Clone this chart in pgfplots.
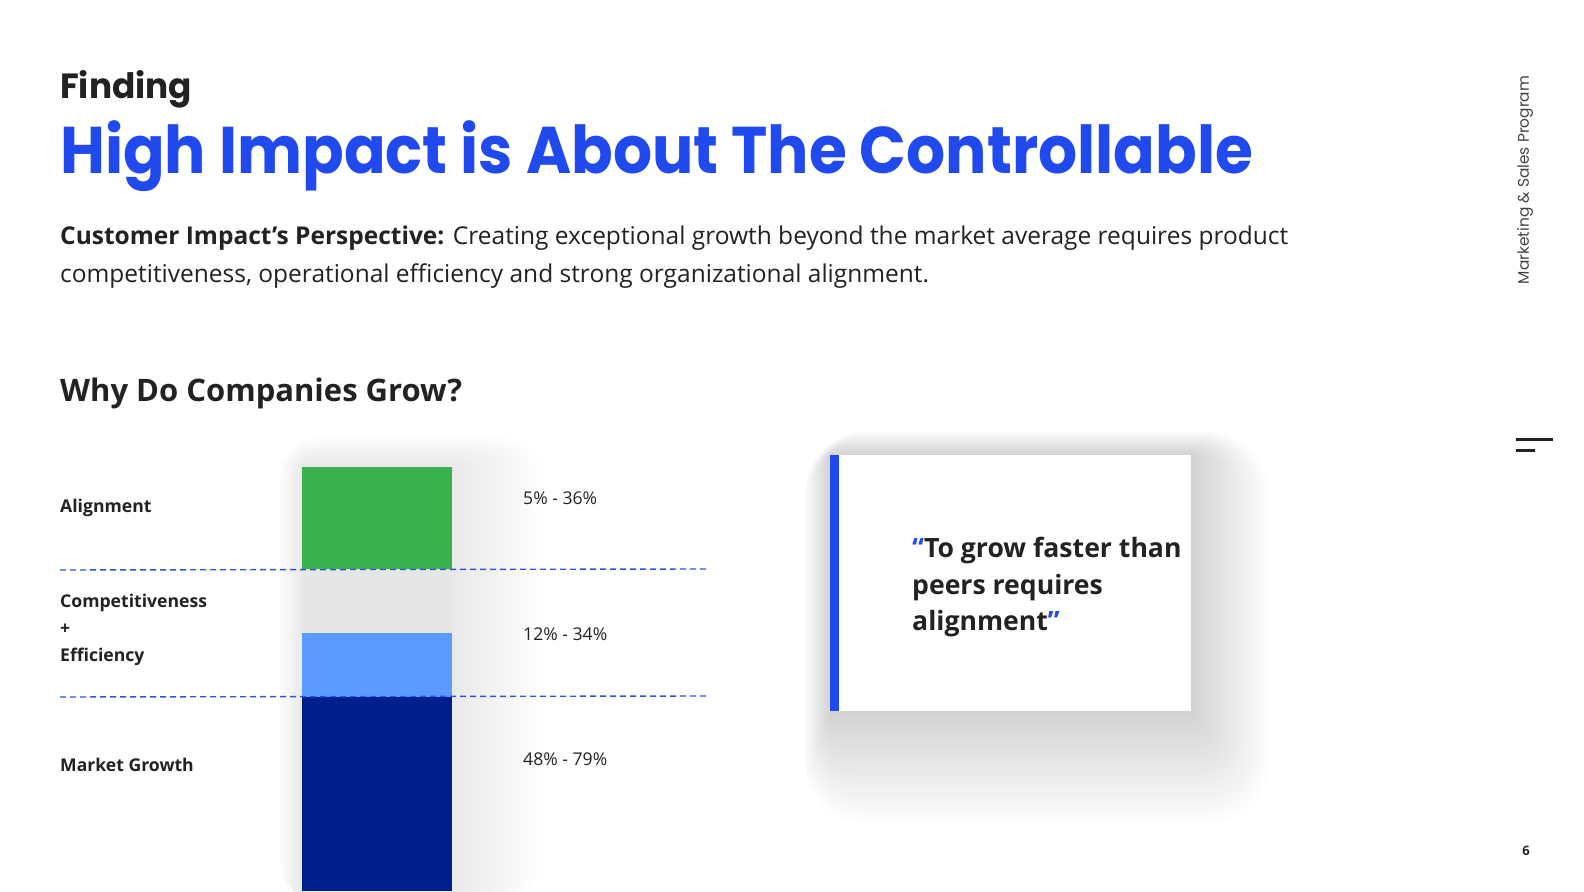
\documentclass[border=0pt]{standalone}
\usepackage{pgfplots}
\pgfplotsset{compat=1.18}
\usepackage{fontspec}
\setmainfont{Open Sans}
\newfontfamily\pop{Poppins}
\definecolor{txt}{HTML}{222222}
\definecolor{ttl}{HTML}{2049EE}
\definecolor{cgreen}{HTML}{3BB14E}
\definecolor{clblue}{HTML}{5B9BFF}
\definecolor{cnavy}{HTML}{001E8C}
\definecolor{cgray}{HTML}{E6E6E6}
\definecolor{cdash}{HTML}{2F55D4}
\newcommand{\fs}[1]{\fontsize{#1}{#1}\selectfont}
\begin{document}
\begin{tikzpicture}[x=1pt,y=1pt]
\useasboundingbox (0,0) rectangle (1584,891);
\fill[white] (0,0) rectangle (1584,891);
% soft shadow around bar
\foreach \k in {1,...,22} {
  \fill[black, opacity=0.005, rounded corners=2*\k] ({302-1.1*\k},-10) rectangle ({452+4.2*\k},{424+1.4*\k});
}
% shadow around quote box
\foreach \k in {1,...,22} {
  \fill[black, opacity=0.006, rounded corners=3*\k] ({830-1.2*\k},{180-5.2*\k}) rectangle ({1191+3.6*\k},{436+1.1*\k});
}
\begin{axis}[
  at={(0,0)}, anchor=origin,
  scale only axis, width=1584pt, height=891pt,
  xmin=0, xmax=1584, ymin=0, ymax=891,
  hide axis, clip=true,
  ybar stacked, bar width=150,
]
\addplot[fill=cnavy, draw=none] coordinates {(377,194)};
\addplot[fill=clblue, draw=none] coordinates {(377,64)};
\addplot[fill=cgray, draw=none] coordinates {(377,64)};
\addplot[fill=cgreen, draw=none] coordinates {(377,102)};
\end{axis}
\draw[cdash, line width=1.4pt, dash pattern=on 6pt off 4pt] (60,321) -- (710,322);
\draw[cdash, line width=1.4pt, dash pattern=on 6pt off 4pt] (60,194) -- (710,195);
% quote box
\fill[white] (839,180) rectangle (1191,436);
\fill[ttl] (830,180) rectangle (839,436);
% texts
\node[anchor=base west, inner sep=0, text=txt, xscale=0.98] at (60,792) {\pop\bfseries\fs{35}Finding};
\node[anchor=base west, inner sep=0, text=ttl, xscale=0.93] at (60,717) {\pop\bfseries\fs{66}High Impact is About The Controllable};
\node[anchor=base west, inner sep=0, text=txt] at (60,646) {\fs{24.5}\textbf{Customer Impact’s Perspective:} Creating exceptional growth beyond the market average requires product};
\node[anchor=base west, inner sep=0, text=txt] at (60,608) {\fs{24.5}competitiveness, operational efficiency and strong organizational alignment.};
\node[anchor=base west, inner sep=0, text=txt] at (60,489) {\bfseries\fs{31}Why Do Companies Grow?};
\node[anchor=base west, inner sep=0, text=txt] at (60,378) {\bfseries\fs{17.6}Alignment};
\node[anchor=base west, inner sep=0, text=txt] at (60,283) {\bfseries\fs{17.6}Competitiveness};
\node[anchor=base west, inner sep=0, text=txt] at (60,256) {\bfseries\fs{17.6}+};
\node[anchor=base west, inner sep=0, text=txt] at (60,229) {\bfseries\fs{17.6}Efficiency};
\node[anchor=base west, inner sep=0, text=txt] at (60,119) {\bfseries\fs{17.6}Market Growth};
\node[anchor=base west, inner sep=0, text=txt] at (523,386) {\fs{17.6}5\% - 36\%};
\node[anchor=base west, inner sep=0, text=txt] at (523,250) {\fs{17.6}12\% - 34\%};
\node[anchor=base west, inner sep=0, text=txt] at (523,125) {\fs{17.6}48\% - 79\%};
\node[anchor=base west, inner sep=0, text=txt] at (912,333) {\bfseries\fs{26.6}\textcolor{ttl}{“}To grow faster than};
\node[anchor=base west, inner sep=0, text=txt] at (912,296) {\bfseries\fs{26.6}peers requires};
\node[anchor=base west, inner sep=0, text=txt] at (912,260) {\bfseries\fs{26.6}alignment\textcolor{ttl}{”}};
\node[rotate=90, inner sep=0, text=txt!85] at (1525,711) {\pop\fs{15.4}Marketing \& Sales Program};
\fill[txt] (1516,450) rectangle (1553,453);
\fill[txt] (1516,439) rectangle (1535,442);
\node[anchor=base, inner sep=0, text=txt] at (1526,35) {\bfseries\fs{13}6};
\end{tikzpicture}
\end{document}
